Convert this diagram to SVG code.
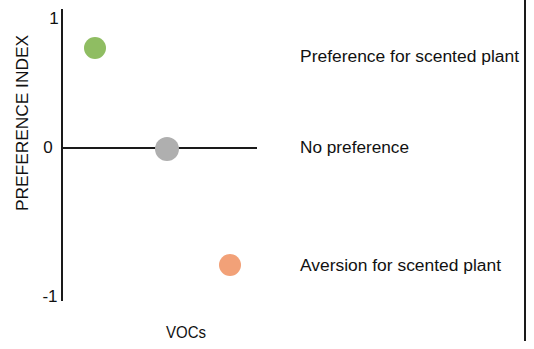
<svg xmlns="http://www.w3.org/2000/svg" width="534" height="349" viewBox="0 0 534 349">
<style>
text{font-family:"Liberation Sans",Arial,sans-serif;fill:#111}
.lbl{font-size:16px}
.tick{font-size:17px}
.axis{stroke:#1a1a1a;stroke-width:2;fill:none}
</style>
<rect width="534" height="349" fill="#fff"/>
<g id="axes">
<line class="axis" x1="62" y1="9" x2="62" y2="301"/>
<line class="axis" x1="62" y1="148" x2="257" y2="148"/>
<line class="axis" x1="525" y1="0" x2="525" y2="341"/>
</g>
<g id="ticks">
<text class="tick" x="54" y="24" text-anchor="middle">1</text>
<text class="tick" x="48" y="153" text-anchor="middle">0</text>
<text class="tick" x="50" y="302" text-anchor="middle">-1</text>
</g>
<text class="lbl" transform="translate(28,123) rotate(-90)" text-anchor="middle" textLength="176" lengthAdjust="spacingAndGlyphs">PREFERENCE INDEX</text>
<text class="lbl" x="186" y="338" text-anchor="middle" textLength="40" lengthAdjust="spacingAndGlyphs">VOCs</text>
<g id="point-preference">
<circle cx="95" cy="48" r="11" fill="#8fbd62"/>
<text class="lbl" x="300" y="62" textLength="219" lengthAdjust="spacingAndGlyphs">Preference for scented plant</text>
</g>
<g id="point-none">
<circle cx="167" cy="149" r="12" fill="#afafaf"/>
<text class="lbl" x="300" y="153" textLength="109" lengthAdjust="spacingAndGlyphs">No preference</text>
</g>
<g id="point-aversion">
<circle cx="230" cy="265" r="11" fill="#f2a178"/>
<text class="lbl" x="300" y="271" textLength="201" lengthAdjust="spacingAndGlyphs">Aversion for scented plant</text>
</g>
</svg>
